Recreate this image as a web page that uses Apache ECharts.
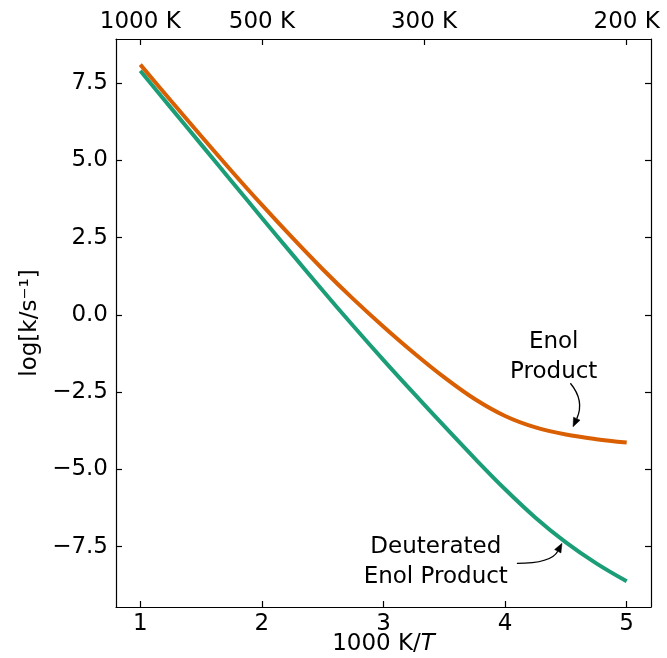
<!DOCTYPE html>
<html><head><meta charset="utf-8">
<script src="https://cdn.jsdelivr.net/npm/echarts@6/dist/echarts.min.js"></script>
<style>html,body{margin:0;padding:0;background:#fff}#c{width:667px;height:658px}</style>
</head><body><div id="c"></div>
<script>
// 1000 K / T
const invT = [1.00,1.25,1.50,1.75,2.00,2.25,2.50,2.75,3.00,3.25,3.50,3.75,4.00,4.25,4.50,4.75,5.00];
// log[k/s^-1]
const enolProduct = [8.10,6.94,5.79,4.66,3.56,2.50,1.48,0.52,-0.38,-1.23,-2.02,-2.72,-3.27,-3.64,-3.87,-4.02,-4.13];
const deutEnolProduct = [7.90,6.71,5.52,4.33,3.14,1.96,0.79,-0.35,-1.46,-2.54,-3.60,-4.64,-5.64,-6.56,-7.36,-8.04,-8.62];
const bottomTicks = [1,2,3,4,5];
const topTempsK = [1000,500,300,200];
const yTicks = [-7.5,-5,-2.5,0,2.5,5,7.5];
const xRange = [0.8, 5.2];
const yRange = [-9.45, 8.93];

const FONT = '"DejaVu Sans", "Liberation Sans", sans-serif';
const FS = 23;
const orange = '#d95f02', green = '#1b9e77';

const chart = echarts.init(document.getElementById('c'), null, {renderer:'canvas'});
const pair = (xs, ys) => xs.map((x,i)=>[x, ys[i]]);
const fmtY = v => (v.toFixed(1)).replace('-', '\u2212');
const topPos = topTempsK.map(T => 1000 / T);

const axisCommon = {
  axisLine:{show:true, onZero:false, lineStyle:{color:'#000', width:1.2}},
  splitLine:{show:false},
  axisLabel:{color:'#000', fontSize:FS, fontFamily:FONT},
  axisTick:{show:true, inside:true, length:6, lineStyle:{color:'#000', width:1.2}}
};

chart.setOption({
  animation:false,
  backgroundColor:'#fff',
  grid:{left:116, right:16, top:39, bottom:51, containLabel:false, outerBoundsMode:'none'},
  xAxis:[
    Object.assign({}, axisCommon, {
      type:'value', position:'bottom', min:xRange[0], max:xRange[1],
      axisTick:Object.assign({}, axisCommon.axisTick, {customValues:bottomTicks}),
      axisLabel:Object.assign({}, axisCommon.axisLabel, {customValues:bottomTicks, margin:6, formatter:v=>String(v)}),
      name:'1000 K/{i|T}', nameLocation:'middle', nameGap:26, nameMoveOverlap:false,
      nameTextStyle:{color:'#000', fontSize:FS, fontFamily:FONT, rich:{i:{fontStyle:'italic', fontSize:FS, fontFamily:FONT, color:'#000'}}}
    }),
    Object.assign({}, axisCommon, {
      type:'value', position:'top', min:xRange[0], max:xRange[1],
      axisTick:Object.assign({}, axisCommon.axisTick, {customValues:topPos}),
      axisLabel:Object.assign({}, axisCommon.axisLabel, {customValues:topPos, margin:5,
        formatter:v=>Math.round(1000/v)+' K'})
    })
  ],
  yAxis:[
    Object.assign({}, axisCommon, {
      type:'value', position:'left', min:yRange[0], max:yRange[1],
      axisTick:Object.assign({}, axisCommon.axisTick, {customValues:yTicks}),
      axisLabel:Object.assign({}, axisCommon.axisLabel, {customValues:yTicks, margin:8, formatter:fmtY}),
      name:'log[k/s\u207B\u00B9]', nameLocation:'middle', nameGap:73, nameRotate:90,
      nameTextStyle:{color:'#000', fontSize:FS, fontFamily:FONT}
    }),
    Object.assign({}, axisCommon, {
      type:'value', position:'right', min:yRange[0], max:yRange[1],
      axisTick:Object.assign({}, axisCommon.axisTick, {customValues:yTicks}),
      axisLabel:{show:false}
    })
  ],
  series:[
    {type:'line', name:'Deuterated Enol Product', xAxisIndex:0, yAxisIndex:0, data:pair(invT, deutEnolProduct),
     smooth:0.35, showSymbol:false, symbol:'none', lineStyle:{color:green, width:4}, itemStyle:{color:green}},
    {type:'line', name:'Enol Product', xAxisIndex:0, yAxisIndex:0, data:pair(invT, enolProduct),
     smooth:0.35, showSymbol:false, symbol:'none', lineStyle:{color:orange, width:4}, itemStyle:{color:orange}}
  ]
});

// annotations, anchored in data coordinates
const labels = [
  {text:'Enol\nProduct', at:[4.40,-1.35]},
  {text:'Deuterated\nEnol Product', at:[3.43,-8.0]}
];
const arrows = [
  {from:[4.537,-2.21], ctrl:[4.656,-2.78], to:[4.559,-3.62]},
  {from:[4.097,-8.04], ctrl:[4.380,-8.04], to:[4.468,-7.39]}
];
const px = p => chart.convertToPixel({gridIndex:0}, p);
const graphics = [];
labels.forEach(l => {
  const p = px(l.at);
  graphics.push({type:'text', x:p[0], y:p[1], z:100, style:{text:l.text, fill:'#000',
    font:FS+'px '+FONT, align:'center', verticalAlign:'middle', lineHeight:30}});
});
arrows.forEach(a => {
  const s = px(a.from), c = px(a.ctrl), t = px(a.to);
  let dx = t[0]-c[0], dy = t[1]-c[1]; const d = Math.hypot(dx,dy); dx/=d; dy/=d;
  const L = 9, W = 3.6;
  const bx = t[0]-dx*L, by = t[1]-dy*L;
  graphics.push({type:'bezierCurve', z:100, shape:{x1:s[0], y1:s[1], cpx1:c[0], cpy1:c[1], x2:bx, y2:by},
    style:{stroke:'#000', lineWidth:1.3, fill:null}});
  graphics.push({type:'polygon', z:100, shape:{points:[[t[0],t[1]],[bx-dy*W, by+dx*W],[bx+dy*W, by-dx*W]]},
    style:{fill:'#000', stroke:'#000', lineWidth:0.5}});
});
chart.setOption({graphic:graphics});
</script>
</body></html>
